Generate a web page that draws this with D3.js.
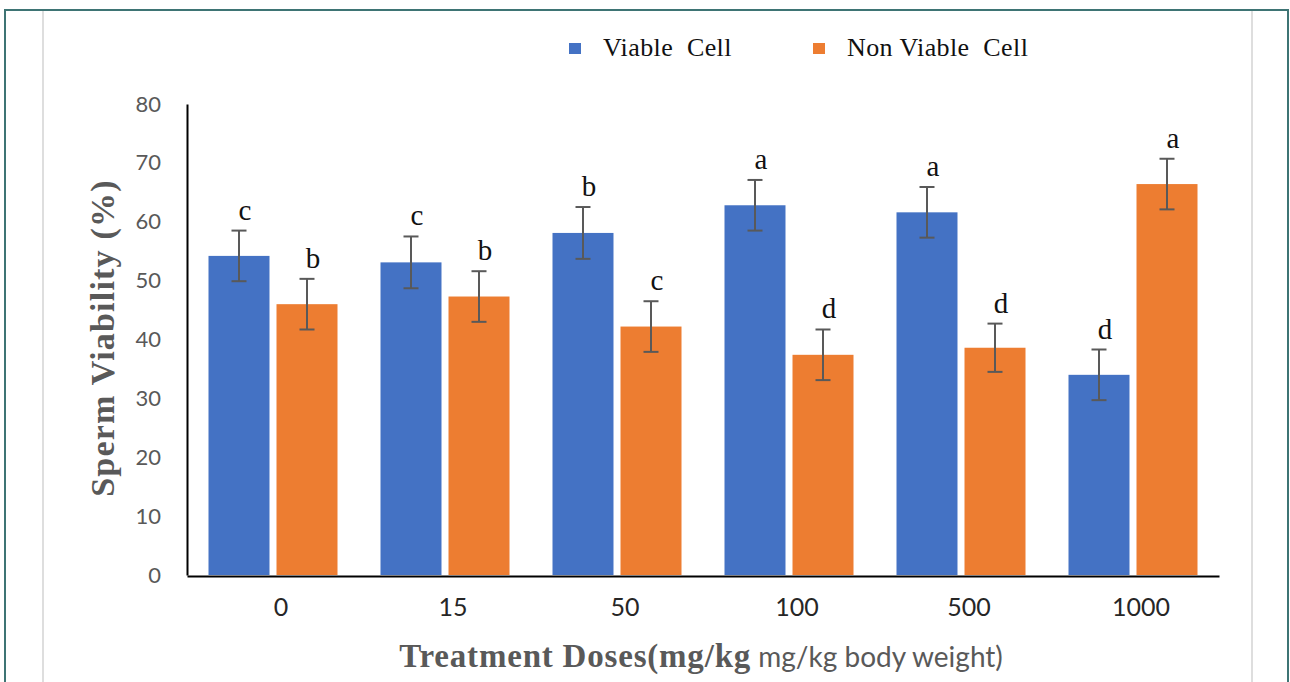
<!DOCTYPE html>
<html>
<head>
<meta charset="utf-8">
<script src="https://cdn.jsdelivr.net/npm/d3@7.9.0/dist/d3.min.js"></script>
<style>
  html, body { margin: 0; padding: 0; background: #fff; }
  svg { display: block; }
</style>
</head>
<body>
<svg id="chart" width="1290" height="682"></svg>
<script>
// data
const doses = ['0', '15', '50', '100', '500', '1000'];
const seriesNames = ['Viable  Cell', 'Non Viable  Cell'];
const viable = [54.2, 53.1, 58.1, 62.8, 61.6, 34.0];
const nonViable = [46.0, 47.3, 42.2, 37.4, 38.6, 66.4];
const viableErr = [4.3, 4.4, 4.4, 4.3, 4.3, 4.3];
const nonViableErr = [4.3, 4.3, 4.3, 4.3, 4.1, 4.3];
const viableLetters = ['c', 'c', 'b', 'a', 'a', 'd'];
const nonViableLetters = ['b', 'b', 'c', 'd', 'd', 'a'];
const yTicks = [0, 10, 20, 30, 40, 50, 60, 70, 80];

const colors = d3.scaleOrdinal().domain(seriesNames).range(['#4472C4', '#ED7D31']);

const svg = d3.select('#chart');

// frame around the figure
svg.append('rect')
  .attr('x', 5).attr('y', 10).attr('width', 1283).attr('height', 700)
  .attr('fill', 'none').attr('stroke', '#3e7474').attr('stroke-width', 2);
[43, 1252].forEach((x) => {
  svg.append('line')
    .attr('x1', x).attr('x2', x).attr('y1', 11).attr('y2', 682)
    .attr('stroke', '#dedede').attr('stroke-width', 2);
});

const x0 = d3.scaleBand().domain(doses).range([187, 1219])
  .paddingInner(0.25).paddingOuter(0.125);
const x1 = d3.scaleBand().domain(seriesNames).range([0, x0.bandwidth()])
  .paddingInner(0.103);
const y = d3.scaleLinear().domain([0, 80]).range([575, 104]);

let rows = doses.map((dose, i) => [
  { dose, series: seriesNames[0], value: viable[i], err: viableErr[i], letter: viableLetters[i] },
  { dose, series: seriesNames[1], value: nonViable[i], err: nonViableErr[i], letter: nonViableLetters[i] },
]).flat();

// bars
svg.append('g')
  .selectAll('rect')
  .data(rows)
  .join('rect')
  .attr('x', (d) => x0(d.dose) + x1(d.series))
  .attr('y', (d) => y(d.value))
  .attr('width', x1.bandwidth())
  .attr('height', (d) => y(0) - y(d.value))
  .attr('fill', (d) => colors(d.series));

// error bars
let err = svg.append('g').attr('stroke', '#595959').attr('stroke-width', 2);
rows.forEach((d) => {
  let cx = x0(d.dose) + x1(d.series) + x1.bandwidth() / 2;
  err.append('line').attr('x1', cx).attr('x2', cx)
    .attr('y1', y(d.value + d.err)).attr('y2', y(d.value - d.err));
  [d.value + d.err, d.value - d.err].forEach((v) => {
    err.append('line').attr('x1', cx - 7.5).attr('x2', cx + 7.5)
      .attr('y1', y(v)).attr('y2', y(v));
  });
});

// significance letters
svg.append('g')
  .selectAll('text')
  .data(rows)
  .join('text')
  .attr('x', (d) => x0(d.dose) + x1(d.series) + x1.bandwidth() / 2 + 6)
  .attr('y', (d) => y(d.value + d.err) - 11)
  .attr('text-anchor', 'middle')
  .attr('font-family', '"Liberation Serif", serif')
  .attr('font-size', 29)
  .attr('fill', '#111')
  .text((d) => d.letter);

// axes
let yAxis = svg.append('g')
  .attr('transform', 'translate(187,0)')
  .call(d3.axisLeft(y).tickValues(yTicks).tickSize(0).tickPadding(26));
yAxis.select('.domain').attr('stroke', '#000').attr('stroke-width', 2);
yAxis.selectAll('text')
  .attr('font-family', 'Lato, "Liberation Sans", sans-serif')
  .attr('font-size', 22).attr('fill', '#595959');

let xAxis = svg.append('g')
  .attr('transform', 'translate(0,576)')
  .call(d3.axisBottom(x0).tickSize(0).tickPadding(22));
xAxis.select('.domain').attr('stroke', '#000').attr('stroke-width', 2);
xAxis.selectAll('text')
  .attr('dx', 8)
  .attr('font-family', 'Lato, "Liberation Sans", sans-serif')
  .attr('font-size', 25).attr('fill', '#262626');

// axis titles
svg.append('text')
  .attr('transform', 'translate(114,338) rotate(-90)')
  .attr('text-anchor', 'middle')
  .attr('font-family', '"Liberation Serif", serif')
  .attr('font-weight', 'bold')
  .attr('font-size', 34)
  .attr('letter-spacing', 1.2)
  .attr('fill', '#595959')
  .text('Sperm Viability  (%)');

let xt = svg.append('text')
  .attr('x', 701).attr('y', 667)
  .attr('text-anchor', 'middle')
  .attr('fill', '#595959');
xt.append('tspan')
  .attr('font-family', '"Liberation Serif", serif')
  .attr('font-weight', 'bold').attr('font-size', 33)
  .attr('letter-spacing', 0.8)
  .text('Treatment Doses(mg/kg');
xt.append('tspan')
  .attr('font-family', 'Lato, "Liberation Sans", sans-serif')
  .attr('font-size', 28)
  .text(' mg/kg body weight)');

// legend
let legendX = [569, 813];
seriesNames.forEach((name, i) => {
  svg.append('rect')
    .attr('x', legendX[i]).attr('y', 43).attr('width', 12).attr('height', 11)
    .attr('fill', colors(name));
  svg.append('text')
    .attr('x', legendX[i] + 34).attr('y', 56)
    .attr('font-family', '"Liberation Serif", serif')
    .attr('font-size', 26).attr('fill', '#111')
    .attr('letter-spacing', 0.4)
    .style('white-space', 'pre')
    .text(name);
});
</script>
</body>
</html>
